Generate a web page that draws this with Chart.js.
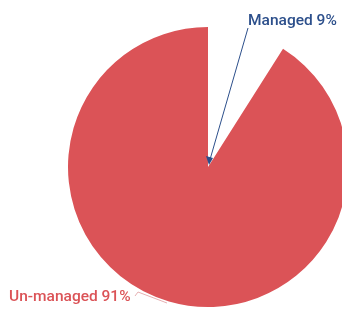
<!DOCTYPE html>
<html lang="en">
<head>
<meta charset="UTF-8">
<title>Managed vs Un-managed</title>
<script src="https://cdn.jsdelivr.net/npm/chart.js"></script>
<style>
  html, body { margin: 0; padding: 0; background: #fff; overflow: hidden; }
  #wrap { position: absolute; left: 0; top: 0; width: 416px; height: 314px; }
</style>
</head>
<body>
<div id="wrap"><canvas id="pie"></canvas></div>
<script>
const labels = ['Managed', 'Un-managed'];
const shares = [9, 91];
const sliceColors = ['rgba(255,255,255,0)', '#db5357'];
const textColors = ['#2c4f8b', '#db5357'];

// callouts drawn next to the pie
const calloutPlugin = {
  id: 'callouts',
  afterDatasetsDraw(chart) {
    const ctx = chart.ctx;
    const arcs = chart.getDatasetMeta(0).data;
    const cx = arcs[0].x, cy = arcs[0].y, r = arcs[0].outerRadius;
    ctx.save();
    ctx.font = '500 15.5px Roboto';
    ctx.textBaseline = 'alphabetic';

    // managed: line with arrow to the centre
    const sx = cx + 40, sy = cy - r + 1;
    ctx.strokeStyle = textColors[0];
    ctx.lineWidth = 1;
    ctx.beginPath();
    ctx.moveTo(sx, sy);
    ctx.lineTo(cx + 1, cy - 4);
    ctx.stroke();
    ctx.fillStyle = textColors[0];
    ctx.beginPath();
    ctx.moveTo(cx + 1, cy - 2);
    ctx.lineTo(cx - 2, cy - 11);
    ctx.lineTo(cx + 5, cy - 9);
    ctx.closePath();
    ctx.fill();
    ctx.textAlign = 'left';
    ctx.fillText(labels[0] + ' ' + shares[0] + '%', cx + 40, cy - r - 2);

    // un-managed: faint leader line
    ctx.strokeStyle = '#e6b0b2';
    ctx.beginPath();
    ctx.moveTo(cx - 73, cy + 129);
    ctx.lineTo(cx - 70, cy + 125);
    ctx.lineTo(cx - 41, cy + 136);
    ctx.stroke();
    ctx.fillStyle = textColors[1];
    ctx.fillText(labels[1] + ' ' + shares[1] + '%', cx - 199, cy + 134);
    ctx.restore();
  }
};

new Chart(document.getElementById('pie'), {
  type: 'pie',
  data: {
    labels: labels,
    datasets: [{
      data: shares,
      backgroundColor: sliceColors,
      borderWidth: 0
    }]
  },
  options: {
    responsive: true,
    maintainAspectRatio: false,
    animation: false,
    layout: { padding: { top: 27, bottom: 7, left: 68, right: 68 } },
    plugins: {
      legend: { display: false },
      tooltip: { enabled: false }
    }
  },
  plugins: [calloutPlugin]
});
</script>
</body>
</html>
